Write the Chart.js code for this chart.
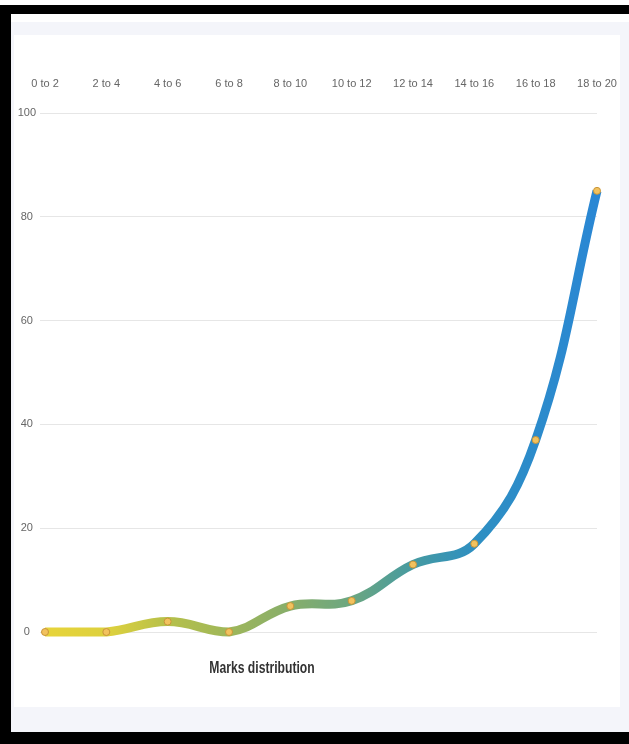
<!DOCTYPE html>
<html>
<head>
<meta charset="utf-8">
<script src="https://cdn.jsdelivr.net/npm/chart.js@4"></script>
<style>
  body { margin: 0; background: #fff; }
  #frame { position: absolute; left: 0; top: 5px; width: 629px; height: 739px; background: #000; }
  #panel { position: absolute; left: 11px; top: 9px; width: 618px; height: 718px; background: #f4f5fa; }
  #topWhite { position: absolute; left: 0; top: 0; width: 618px; height: 8px; background: #fff; }
  #card { position: absolute; left: 3px; top: 21px; width: 606px; height: 672px; background: #fff; }
  #title {
    position: absolute; left: 148px; top: 624px; width: 200px; text-align: center;
    font-family: 'Liberation Sans', Arial, sans-serif;
    font-weight: bold; font-size: 16px; color: #333;
    transform: scaleX(0.76);
  }
</style>
</head>
<body>
<div id="frame">
  <div id="panel">
    <div id="topWhite"></div>
    <div id="card">
      <canvas id="marksChart" width="606" height="672"></canvas>
      <div id="title">Marks distribution</div>
    </div>
  </div>
</div>
<script>
const ranges = ['0 to 2', '2 to 4', '4 to 6', '6 to 8', '8 to 10', '10 to 12', '12 to 14', '14 to 16', '16 to 18', '18 to 20']
const marks = [0, 0, 2, 0, 5, 6, 13, 17, 37, 85]
const yTicks = [0, 20, 40, 60, 80, 100]

const labelFont = { family: "'Liberation Sans', Arial, sans-serif", size: 11 }

function lineGradient(context){
  const area = context.chart.chartArea
  if (!area) return '#2a87d2'
  const g = context.chart.ctx.createLinearGradient(area.left, 0, area.right, 0)
  g.addColorStop(0, '#e7d43a')
  g.addColorStop(0.12, '#dcd03e')
  g.addColorStop(0.22, '#b6c04a')
  g.addColorStop(0.44, '#88ae6a')
  g.addColorStop(0.56, '#6aa682')
  g.addColorStop(0.67, '#459aa2')
  g.addColorStop(0.78, '#2e8fc2')
  g.addColorStop(1, '#2a87d4')
  return g
}

const marksChart = new Chart(document.getElementById('marksChart'), {
  type: 'line',
  data: {
    labels: ranges,
    datasets: [{
      label: 'Marks distribution',
      data: marks,
      borderColor: lineGradient,
      borderWidth: 9,
      tension: 0.4,
      pointRadius: 3.5,
      pointBackgroundColor: '#f2c25e',
      pointBorderColor: '#c9963a',
      pointBorderWidth: 1,
      clip: 10
    }]
  },
  options: {
    responsive: false,
    animation: false,
    layout: { padding: { top: 30, bottom: 75, left: 0, right: 23 } },
    plugins: {
      legend: { display: false },
      title: { display: false },
      tooltip: { enabled: false }
    },
    scales: {
      x: {
        position: 'top',
        offset: false,
        grid: { display: false },
        border: { display: false },
        ticks: { color: '#666', font: labelFont, padding: 14, maxRotation: 0, autoSkip: false },
        afterFit: scale => {
          scale.height = 48
          scale.paddingLeft = 0
          scale.paddingRight = 0
        }
      },
      y: {
        min: 0,
        max: 100,
        afterBuildTicks: scale => { scale.ticks = yTicks.map(v => ({ value: v })) },
        grid: { color: '#e6e6e6', tickLength: 5 },
        border: { display: false },
        ticks: { color: '#666', font: labelFont, padding: 4, crossAlign: 'center' },
        afterFit: scale => { scale.width = 31 }
      }
    }
  }
})
</script>
</body>
</html>
